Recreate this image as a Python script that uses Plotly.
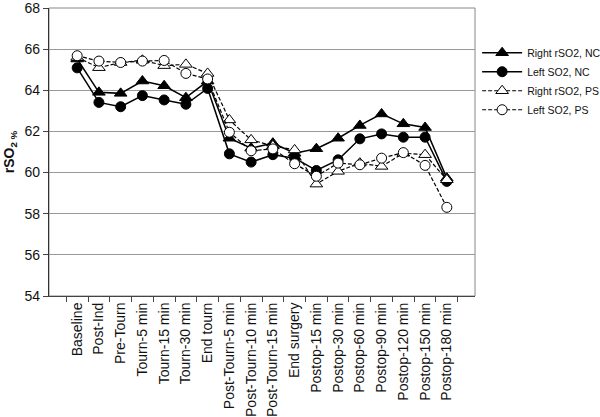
import plotly.graph_objects as go

categories = ["Baseline", "Post-Ind", "Pre-Tourn", "Tourn-5 min", "Tourn-15 min", "Tourn-30 min",
              "End tourn", "Post-Tourn-5 min", "Post-Tourn-10 min", "Post-Tourn-15 min", "End surgery",
              "Postop-15 min", "Postop-30 min", "Postop-60 min", "Postop-90 min", "Postop-120 min",
              "Postop-150 min", "Postop-180 min"]

right_nc = [65.52, 63.9, 63.85, 64.45, 64.22, 63.64, 64.45, 61.67, 61.19, 61.43, 60.94,
            61.16, 61.67, 62.29, 62.85, 62.37, 62.19, 59.73]
left_nc = [65.09, 63.41, 63.2, 63.74, 63.53, 63.32, 64.09, 60.91, 60.51, 60.87, 60.7,
           60.1, 60.62, 61.64, 61.88, 61.72, 61.72, 59.57]
right_ps = [65.6, 65.1, 65.35, 65.46, 65.2, 65.26, 64.82, 62.56, 61.59, 61.3, 61.1,
            59.44, 60.06, 60.46, 60.3, 60.94, 60.87, 59.65]
left_ps = [65.68, 65.42, 65.35, 65.42, 65.45, 64.82, 64.55, 61.96, 61.06, 61.15, 60.43,
           59.82, 60.46, 60.38, 60.7, 60.97, 60.35, 58.31]

series = [
    ("Right rSO2, NC", right_nc, "solid", "triangle-up", "black", 1.5),
    ("Left SO2, NC", left_nc, "solid", "circle", "black", 1.5),
    ("Right rSO2, PS", right_ps, "dash", "triangle-up", "white", 1.2),
    ("Left SO2, PS", left_ps, "dash", "circle", "white", 1.2),
]

fig = go.Figure()
for name, vals, dash, sym, fill, w in series:
    fig.add_trace(go.Scatter(
        x=categories, y=vals, name=name, mode="lines+markers",
        line=dict(color="black", width=w, dash="4px,2px" if dash == "dash" else "solid"),
        marker=dict(symbol=sym, size=10 if sym == "circle" else 11,
                    color=fill, line=dict(color="black", width=1)),
    ))

fig.update_layout(
    width=600, height=417,
    margin=dict(l=49, r=125, t=8, b=121, autoexpand=False),
    paper_bgcolor="white", plot_bgcolor="white",
    font=dict(family="Liberation Sans, Arial, sans-serif", size=14, color="#111"),
    showlegend=True,
    legend=dict(x=1.005, y=0.895, xanchor="left", yanchor="top",
                font=dict(size=10.5), bgcolor="rgba(0,0,0,0)", tracegroupgap=0,
                itemwidth=40),
)
fig.update_xaxes(
    type="category", tickangle=-90, tickson="boundaries", automargin=False,
    ticks="outside", ticklen=5, tickcolor="#444",
    showline=True, linecolor="#444", linewidth=1, mirror=False,
    showgrid=False, tickfont=dict(size=14), ticklabeloverflow="allow",
)
fig.update_yaxes(
    range=[54, 68], dtick=2, tick0=54, automargin=False,
    ticks="outside", ticklen=5, tickcolor="#444",
    showline=True, linecolor="#333", linewidth=1.2,
    showgrid=True, gridcolor="#999", gridwidth=1,
    tickfont=dict(size=14), ticklabeloverflow="allow",
    title=dict(text="<b>rSO<sub>2 %</sub></b>", font=dict(size=14), standoff=6),
)
# frame on top and right
fig.add_shape(type="rect", xref="paper", yref="paper", x0=0, y0=0, x1=1, y1=1,
              line=dict(color="#888", width=1), layer="below")

fig.write_html("out.html", config={"displayModeBar": False},
               post_script="document.body.style.margin='0';document.body.style.overflow='hidden';")
